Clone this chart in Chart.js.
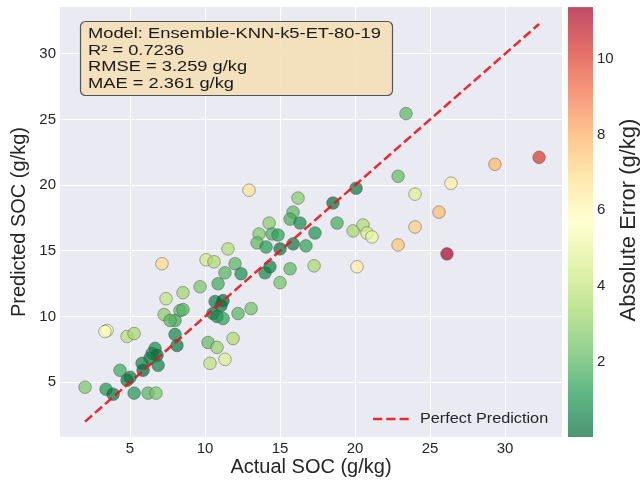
<!DOCTYPE html>
<html>
<head>
<meta charset="utf-8">
<script src="https://cdn.jsdelivr.net/npm/chart.js@4.4.0/dist/chart.umd.min.js"></script>
<style>
  body { margin: 0; background: #fff; }
</style>
</head>
<body>
<canvas id="chart" width="640" height="482"></canvas>
<script>
// Valeurs (g/kg)
const actualSOC = [
  23.40, 32.27, 29.33, 22.87, 26.40, 24.00, 25.60, 24.00, 22.87, 26.13,
  12.93, 16.20, 15.87, 15.67, 16.33, 14.27, 13.60, 14.47, 14.87, 17.33,
  18.53, 20.07, 18.80, 19.87, 20.53, 20.80, 21.13, 20.13, 13.47, 14.07,
  15.00, 15.87, 16.73, 11.53, 12.00, 12.40, 11.33, 14.00, 14.33, 15.67,
  17.27, 15.00, 10.07, 10.60, 7.13, 9.67, 10.87, 8.53, 7.40, 10.67,
  11.20, 11.07, 8.33, 8.53, 7.27, 8.00, 7.67, 10.53, 10.80, 11.20,
  12.20, 13.07, 3.47, 3.33, 4.80, 5.27, 8.00, 8.13, 10.20, 10.80,
  11.87, 11.33, 10.33, 6.67, 6.47, 6.80, 6.33, 6.87, 5.80, 5.87,
  4.33, 5.00, 4.80, 2.00, 3.40, 3.87, 5.27, 6.20, 6.73
];
const predictedSOC = [
  25.45, 22.12, 21.59, 20.68, 20.15, 19.32, 17.95, 16.82, 15.45, 14.77,
  19.62, 19.02, 17.95, 17.42, 17.12, 17.12, 16.29, 16.29, 16.21, 16.36,
  18.64, 19.77, 17.12, 16.52, 16.97, 16.36, 16.06, 13.79, 15.61, 15.30,
  15.15, 15.53, 15.38, 15.15, 14.02, 13.26, 13.33, 13.33, 13.79, 13.64,
  13.86, 12.58, 14.32, 14.17, 14.02, 12.27, 12.50, 11.82, 11.36, 11.14,
  11.21, 10.83, 10.45, 10.53, 10.15, 9.70, 9.70, 10.23, 10.00, 9.85,
  10.23, 10.61, 8.94, 8.86, 8.48, 8.71, 8.64, 7.80, 8.03, 7.65,
  8.33, 6.74, 6.44, 7.58, 7.20, 7.05, 6.82, 6.29, 6.44, 5.91,
  5.91, 5.38, 5.15, 4.62, 4.47, 4.09, 4.17, 4.17, 4.17
];
const xTicks = [5, 10, 15, 20, 25, 30];
const yTicks = [5, 10, 15, 20, 25, 30];
const errorTicks = [2, 4, 6, 8, 10];
const statLines = [
  'Model: Ensemble-KNN-k5-ET-80-19',
  'R² = 0.7236',
  'RMSE = 3.259 g/kg',
  'MAE = 2.361 g/kg'
];

const FONT = "'Liberation Sans', Arial, sans-serif";
const TEXT = '#262626';

// Erreur absolue et bornes de la ligne parfaite
const absError = actualSOC.map((a, i) => Math.abs(a - predictedSOC[i]));
const errMin = Math.min(...absError);
const errMax = Math.max(...absError);
const lo = Math.min(...actualSOC, ...predictedSOC);
const hi = Math.max(...actualSOC, ...predictedSOC);

// Palette RdYlGn inversée
const rdylgn_r = ['#006837', '#1a9850', '#66bd63', '#a6d96a', '#d9ef8b', '#ffffbf',
                  '#fee08b', '#fdae61', '#f46d43', '#d73027', '#a50026'];
function hexRgb(h) {
  return [parseInt(h.slice(1, 3), 16), parseInt(h.slice(3, 5), 16), parseInt(h.slice(5, 7), 16)];
}
function cmap(t, alpha) {
  t = Math.max(0, Math.min(1, t));
  const p = t * (rdylgn_r.length - 1);
  const i = Math.min(Math.floor(p), rdylgn_r.length - 2);
  const f = p - i;
  const a = hexRgb(rdylgn_r[i]), b = hexRgb(rdylgn_r[i + 1]);
  const c = a.map((v, k) => Math.round(v + (b[k] - v) * f));
  return `rgba(${c[0]},${c[1]},${c[2]},${alpha})`;
}
const pointColors = absError.map(e => cmap((e - errMin) / (errMax - errMin), 0.7));

// Pas de marge automatique autour des axes
function noPad(s) {
  s.paddingTop = 0; s.paddingBottom = 0; s.paddingLeft = 0; s.paddingRight = 0;
}

// Fond gris-bleu de la zone de tracé
const backgroundPlugin = {
  id: 'background',
  beforeDraw(chart) {
    const { ctx, chartArea: a } = chart;
    ctx.save();
    ctx.fillStyle = '#ffffff';
    ctx.fillRect(0, 0, chart.width, chart.height);
    ctx.fillStyle = '#eaeaf2';
    ctx.fillRect(a.left, a.top, a.right - a.left, a.bottom - a.top);
    ctx.restore();
  }
};

// Encadré des statistiques, légende et barre de couleur
const overlayPlugin = {
  id: 'overlay',
  afterDatasetsDraw(chart) {
    const { ctx } = chart;
    ctx.save();
    // encadré
    ctx.beginPath();
    ctx.roundRect(80.5, 21.5, 312, 74, 5);
    ctx.fillStyle = 'rgba(245,222,179,0.85)';
    ctx.fill();
    ctx.lineWidth = 1.2;
    ctx.strokeStyle = '#555555';
    ctx.stroke();
    ctx.fillStyle = '#1a1a1a';
    ctx.font = `15px ${FONT}`;
    ctx.textBaseline = 'middle';
    statLines.forEach((line, i) => {
      ctx.save();
      ctx.translate(88, 33.5 + i * 16.9);
      ctx.scale(1.22, 1);
      ctx.fillText(line, 0, 0);
      ctx.restore();
    });
    // légende
    ctx.beginPath();
    ctx.setLineDash([9.25, 4]);
    ctx.lineWidth = 2.5;
    ctx.strokeStyle = 'rgba(235,20,25,0.9)';
    ctx.moveTo(373, 419);
    ctx.lineTo(412, 419);
    ctx.stroke();
    ctx.setLineDash([]);
    ctx.fillStyle = TEXT;
    ctx.font = `14px ${FONT}`;
    ctx.translate(420, 419);
    ctx.scale(1.16, 1);
    ctx.fillText('Perfect Prediction', 0, 0);
    ctx.restore();
  },
  afterDraw(chart) {
    const { ctx } = chart;
    const s = chart.scales.cbar;
    const top = s.getPixelForValue(errMax), bottom = s.getPixelForValue(errMin);
    const grad = ctx.createLinearGradient(0, bottom, 0, top);
    for (let k = 0; k <= 20; k++) grad.addColorStop(k / 20, cmap(k / 20, 0.7));
    ctx.save();
    ctx.fillStyle = grad;
    ctx.fillRect(568, top, 25, bottom - top);
    ctx.fillStyle = TEXT;
    ctx.font = `22px ${FONT}`;
    ctx.textAlign = 'center';
    ctx.textBaseline = 'middle';
    ctx.translate(629, (top + bottom) / 2 - 2);
    ctx.rotate(-Math.PI / 2);
    ctx.fillText('Absolute Error (g/kg)', 0, 0);
    ctx.restore();
  }
};

Chart.defaults.font.family = FONT;
Chart.defaults.color = TEXT;

new Chart(document.getElementById('chart'), {
  type: 'scatter',
  data: {
    datasets: [
      {
        type: 'line',
        label: 'Perfect Prediction',
        data: [{ x: lo, y: lo }, { x: hi, y: hi }],
        borderColor: 'rgba(235,20,25,0.9)',
        borderWidth: 2.5,
        borderDash: [9.25, 4],
        pointRadius: 0,
        fill: false,
        order: 0
      },
      {
        label: 'Predictions',
        data: actualSOC.map((a, i) => ({ x: a, y: predictedSOC[i] })),
        backgroundColor: pointColors,
        borderColor: 'rgba(70,70,70,0.55)',
        borderWidth: 0.8,
        pointRadius: 6.3,
        order: 1
      }
    ]
  },
  options: {
    responsive: false,
    animation: false,
    layout: { padding: { top: 5, left: 0, right: 0, bottom: 0 } },
    plugins: {
      legend: { display: false },
      tooltip: { enabled: false }
    },
    scales: {
      x: {
        type: 'linear',
        min: 0.33,
        max: 33.8,
        afterBuildTicks: s => { s.ticks = xTicks.map(v => ({ value: v })); },
        afterFit: s => { s.height = 45; noPad(s); },
        grid: { color: '#ffffff', lineWidth: 1, drawTicks: false },
        border: { display: false },
        ticks: { font: { size: 15 }, color: TEXT, padding: 3 },
        title: {
          display: true, text: 'Actual SOC (g/kg)', color: TEXT,
          font: { size: 20 }, padding: { top: 0, bottom: 3 }
        }
      },
      y: {
        type: 'linear',
        min: 0.83,
        max: 33.56,
        afterBuildTicks: s => { s.ticks = yTicks.map(v => ({ value: v })); },
        afterFit: s => { s.width = 60; noPad(s); },
        grid: { color: '#ffffff', lineWidth: 1, drawTicks: false },
        border: { display: false },
        ticks: { font: { size: 15 }, color: TEXT, padding: 4 },
        title: {
          display: true, text: 'Predicted SOC (g/kg)', color: TEXT,
          font: { size: 20 }, padding: { top: 7, bottom: 0 }
        }
      },
      cbar: {
        type: 'linear',
        position: 'right',
        min: errMin,
        max: errMax,
        afterBuildTicks: s => { s.ticks = errorTicks.map(v => ({ value: v })); },
        afterFit: s => { s.width = 78; noPad(s); },
        grid: { display: false, drawTicks: false },
        border: { display: false },
        ticks: { font: { size: 15 }, color: TEXT, padding: 35 }
      }
    }
  },
  plugins: [backgroundPlugin, overlayPlugin]
});
</script>
</body>
</html>
